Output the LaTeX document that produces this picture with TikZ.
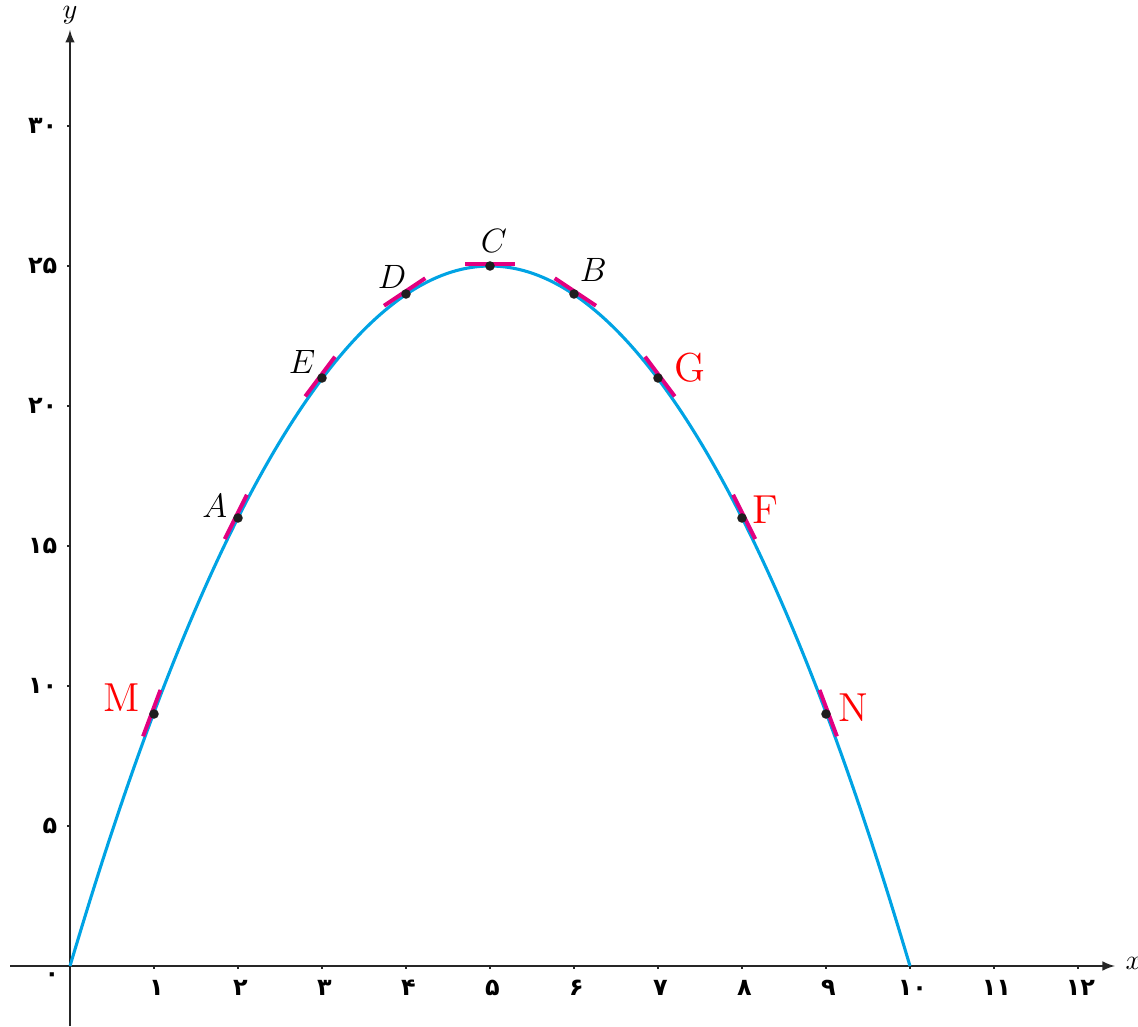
\documentclass[tikz,border=0pt]{standalone}
\usepackage{fontspec}
\newfontfamily\fanum[Script=Arabic]{DejaVu Sans}
\usetikzlibrary{arrows,positioning,calc}
\definecolor{curveblue}{RGB}{0,163,228}
\definecolor{tangpink}{RGB}{226,0,128}
\definecolor{dotfill}{RGB}{30,30,30}
\tikzset{
  flow/.style={>=latex,line width=0.55pt},
  axis/.style={->,draw=black!85},
  graph/.style={draw=curveblue,line width=1.1pt},
  tangent/.style={draw=tangpink,line width=1.4pt},
  dot/.style={circle,fill=dotfill,inner sep=0pt,minimum size=3.4pt},
  lbl/.style={font=\large,inner sep=0pt},
  redlbl/.style={font=\Large,text=red,inner sep=0pt},
  num/.style={font=\fontsize{8.5}{10}\fanum\bfseries,inner sep=0pt},
  xnum/.style={num,anchor=north,yshift=-1.7mm,xshift=0.3mm},
  ynum/.style={num,anchor=east,xshift=-1.5mm},
}
\begin{document}
\begin{tikzpicture}[flow,x=1.05cm,y=0.35cm]
\useasboundingbox (-0.8333,-2.1429) rectangle (12.7143,34.5);
\draw[axis] (-0.714,0) -- (12.44,0) coordinate (xend);
\draw[axis] (0,-2.143) -- (0,33.43) coordinate (yend);
\node[anchor=base west,inner sep=0pt] (xlab) at ([xshift=1.25mm,yshift=-0.4mm]xend) {$x$};
\node[anchor=base,inner sep=0pt] (ylab) at ([yshift=1.4mm]yend) {$y$};
\foreach \i/\d in {1/۱,2/۲,3/۳,4/۴,5/۵,6/۶,7/۷,8/۸,9/۹,10/۱۰,11/۱۱,12/۱۲}{
  \draw[black!85] (\i,0) -- ++(0,-0.04cm);
  \node[xnum] (x\i) at (\i,0) {\d};
}
\foreach \j/\d in {5/۵,10/۱۰,15/۱۵,20/۲۰,25/۲۵,30/۳۰}{
  \draw[black!85] (0,\j) -- ++(-0.04cm,0);
  \node[ynum] (y\j) at (0,\j) {\d};
}
\node[num] (x0) at (-0.225cm,-0.14cm) {۰};
\draw[graph] (0,0) parabola bend (5,25) (10,0);
\foreach \px/\nm in {1/M,2/A,3/E,4/D,5/C,6/B,7/G,8/F,9/N}{
  \pgfmathsetmacro\py{10*\px-\px*\px}
  \pgfmathsetmacro\ang{atan((10-2*\px)/3)}
  \draw[tangent] ([shift={(\ang+90:0.03cm)}]\px,\py) ++(\ang:-0.31cm) -- ++(\ang:0.62cm);
  \node[dot] (\nm) at (\px,\py) {};
}
\node[redlbl] (lM) at ([shift={(-0.40cm,0.20cm)}]M) {M};
\node[lbl] (lA) at ([shift={(-0.29cm,0.15cm)}]A) {$A$};
\node[lbl] (lE) at ([shift={(-0.25cm,0.20cm)}]E) {$E$};
\node[lbl] (lD) at ([shift={(-0.175cm,0.21cm)}]D) {$D$};
\node[lbl] (lC) at ([shift={(0.05cm,0.31cm)}]C) {$C$};
\node[lbl] (lB) at ([shift={(0.24cm,0.30cm)}]B) {$B$};
\node[redlbl] (lG) at ([shift={(0.40cm,0.125cm)}]G) {G};
\node[redlbl] (lF) at ([shift={(0.29cm,0.10cm)}]F) {F};
\node[redlbl] (lN) at ([shift={(0.34cm,0.075cm)}]N) {N};
\end{tikzpicture}
\end{document}
